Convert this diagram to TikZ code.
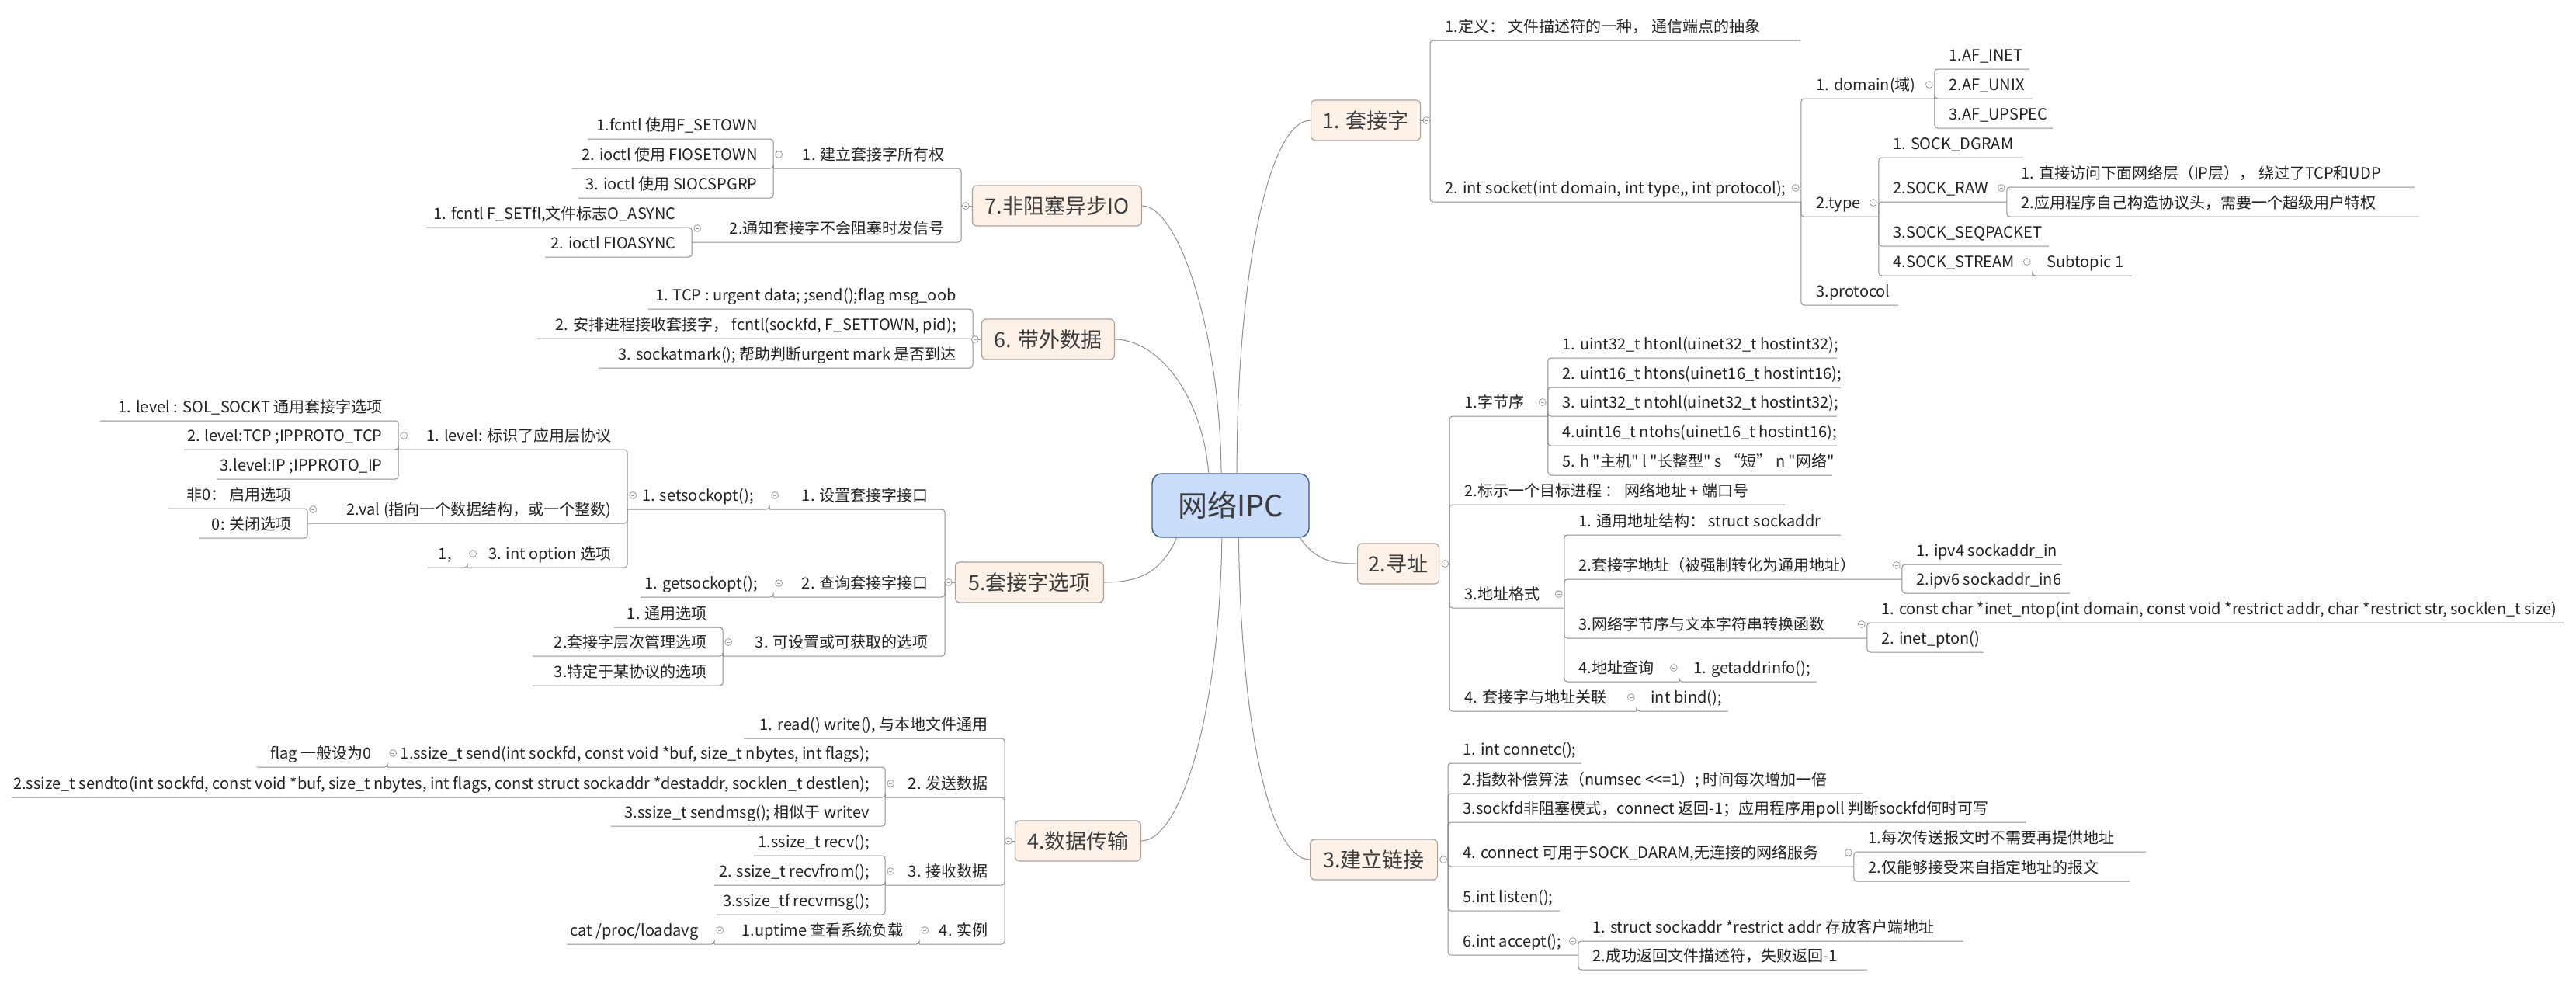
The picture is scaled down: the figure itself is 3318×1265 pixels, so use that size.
\documentclass[tikz,border=0pt]{standalone}
\usepackage{fontspec}
\setmainfont{Noto Sans CJK SC}
\newfontfamily\mapfont{Noto Sans CJK SC}
\definecolor{rootfill}{HTML}{C9DCFA}
\definecolor{rootline}{HTML}{3B5B8F}
\definecolor{boxfill}{HTML}{FEF2E8}
\definecolor{boxline}{HTML}{A9A29B}
\definecolor{linkgray}{HTML}{8E8E8E}
\definecolor{foldgray}{HTML}{9A9A9A}
\definecolor{boxtext}{HTML}{3C3C3C}
\definecolor{leaftext}{HTML}{222222}
\tikzset{
  root/.style={draw=rootline, fill=rootfill, rounded corners=6pt, line width=0.7pt,
    minimum width=101pt, minimum height=41pt, font=\mapfont\fontsize{19}{22}\selectfont, text=boxtext},
  topic/.style={draw=boxline, fill=boxfill, rounded corners=3pt, line width=0.6pt,
    minimum width=#1, minimum height=26pt, inner sep=2pt,
    font=\mapfont\fontsize{13.5}{16}\selectfont, text=boxtext},
  rn/.style={anchor=south west, inner xsep=9.5pt, inner ysep=2pt, text height=8pt, text depth=3.2pt,
    font=\mapfont\fontsize{10}{12}\selectfont, text=leaftext,
    execute at begin node={\hbox to \dimexpr 0.5pt*#1-19pt\relax\bgroup},
    execute at end node={\hss\egroup}},
  ln/.style={anchor=south east, inner xsep=10.5pt, inner ysep=2pt, text height=8pt, text depth=3.2pt,
    font=\mapfont\fontsize{10}{12}\selectfont, text=leaftext,
    execute at begin node={\hbox to \dimexpr 0.5pt*#1-21pt\relax\bgroup\hss},
    execute at end node={\egroup}},
  link/.style={color=linkgray, line width=0.5pt, rounded corners=2pt},
  fold/.style={circle, draw=foldgray, fill=white, line width=0.4pt, minimum size=4.4pt, inner sep=0pt,
    path picture={\draw[foldgray, line width=0.4pt]
      ([xshift=-1.1pt]path picture bounding box.center) -- ([xshift=1.1pt]path picture bounding box.center);}}
}
\begin{document}
\begin{tikzpicture}[x=0.5pt,y=-0.5pt]
\useasboundingbox (0,0) rectangle (3318,1265);

\node[root] (root) at (1585,651) {网络IPC};

\node[topic=70.5pt, anchor=west] (b1) at (1688,155) {1. 套接字};
\node[topic=52.5pt, anchor=west] (b2) at (1748,726) {2.寻址};
\node[topic=82pt, anchor=west] (b3) at (1687,1107) {3.建立链接};
\node[topic=81pt, anchor=east] (b4) at (1470,1083) {4.数据传输};
\node[topic=95.5pt, anchor=east] (b5) at (1422,750) {5.套接字选项};
\node[topic=85.5pt, anchor=east] (b6) at (1436,437) {6. 带外数据};
\node[topic=109pt, anchor=east] (b7) at (1471,265) {7.非阻塞异步IO};

% 1. 套接字
\node[rn=476] (a1) at (1842,52) {1.定义：  文件描述符的一种，  通信端点的抽象};
\node[rn=477] (a2) at (1842,260) {2. int socket(int domain,  int type,{},  int protocol);};
\node[rn=171] (a21) at (2320,127) {1. domain(域)};
\node[rn=122] (a211) at (2491,89) {1.AF\_INET};
\node[rn=126] (a212) at (2491,127) {2.AF\_UNIX};
\node[rn=152] (a213) at (2491,165) {3.AF\_UPSPEC};
\node[rn=99] (a22) at (2320,279) {2.type};
\node[rn=186] (a221) at (2419,203) {1. SOCK\_DGRAM};
\node[rn=165] (a222) at (2419,260) {2.SOCK\_RAW};
\node[rn=525] (a2221) at (2584,241) {1. 直接访问下面网络层（IP层）， 绕过了TCP和UDP};
\node[rn=531] (a2222) at (2584,279) {2.应用程序自己构造协议头，需要一个超级用户特权};
\node[rn=219] (a223) at (2419,317) {3.SOCK\_SEQPACKET};
\node[rn=198] (a224) at (2419,355) {4.SOCK\_STREAM};
\node[rn=128] (a2241) at (2617,355) {Subtopic 1};
\node[rn=124] (a23) at (2320,393) {3.protocol};

% 2.寻址
\node[rn=126] (c1) at (1867,536) {1.字节序};
\node[rn=372] (c11) at (1993,461) {1. uint32\_t htonl(uinet32\_t hostint32);};
\node[rn=377] (c12) at (1993,499) {2. uint16\_t htons(uinet16\_t hostint16);};
\node[rn=372] (c13) at (1993,536) {3. uint32\_t ntohl(uinet32\_t hostint32);};
\node[rn=372] (c14) at (1993,574) {4.uint16\_t ntohs(uinet16\_t hostint16);};
\node[rn=366] (c15) at (1993,612) {5. h "主机" l "长整型" s “短” n "网络"};
\node[rn=431] (c2) at (1867,650) {2.标示一个目标进程 ： 网络地址 + 端口号};
\node[rn=147] (c3) at (1867,783) {3.地址格式};
\node[rn=356] (c31) at (2014,689) {1. 通用地址结构：  struct sockaddr};
\node[rn=435] (c32) at (2014,746) {2.套接字地址（被强制转化为通用地址）};
\node[rn=206] (c321) at (2449,727) {1. ipv4 sockaddr\_in};
\node[rn=216] (c322) at (2449,764) {2.ipv6  sockaddr\_in6};
\node[rn=390] (c33) at (2014,822) {3.网络字节序与文本字符串转换函数};
\node[rn=898] (c331) at (2404,802) {1. const char *inet\_ntop(int domain, const void *restrict addr, char *restrict str, socklen\_t size)};
\node[rn=150] (c332) at (2404,840) {2. inet\_pton()};
\node[rn=148] (c34) at (2014,878) {4.地址查询};
\node[rn=177] (c341) at (2162,878) {1. getaddrinfo();};
\node[rn=240] (c4) at (1867,916) {4. 套接字与地址关联};
\node[rn=118] (c41) at (2107,916) {int bind();};

% 3.建立链接
\node[rn=171] (d1) at (1865,983) {1. int connetc();};
\node[rn=534] (d2) at (1865,1022) {2.指数补偿算法（numsec <{}<=1）; 时间每次增加一倍};
\node[rn=744] (d3) at (1865,1059) {3.sockfd非阻塞模式，connect 返回-1；应用程序用poll 判断sockfd何时可写};
\node[rn=522] (d4) at (1865,1116) {4. connect 可用于SOCK\_DARAM,无连接的网络服务};
\node[rn=376] (d41) at (2387,1097) {1.每次传送报文时不需要再提供地址};
\node[rn=355] (d42) at (2387,1135) {2.仅能够接受来自指定地址的报文};
\node[rn=143] (d5) at (1865,1173) {5.int listen();};
\node[rn=167] (d6) at (1865,1230) {6.int accept();};
\node[rn=496] (d61) at (2032,1212) {1. struct  sockaddr *restrict addr  存放客户端地址};
\node[rn=372] (d62) at (2032,1249) {2.成功返回文件描述符，失败返回-1};

% 7.非阻塞异步IO
\node[ln=241] (h1) at (1238,217) {1. 建立套接字所有权};
\node[ln=239] (h11) at (997,179) {1.fcntl 使用F\_SETOWN};
\node[ln=259] (h12) at (997,217) {2. ioctl 使用 FIOSETOWN};
\node[ln=251] (h13) at (997,255) {3. ioctl 使用 SIOCSPGRP};
\node[ln=346] (h2) at (1238,312) {2.通知套接字不会阻塞时发信号};
\node[ln=342] (h21) at (892,293) {1. fcntl F\_SETfl,文件标志O\_ASYNC};
\node[ln=189] (h22) at (892,331) {2. ioctl FIOASYNC};

% 6. 带外数据
\node[ln=417] (g1) at (1253,398) {1. TCP : urgent data;  ;send();flag msg\_oob};
\node[ln=560] (g2) at (1253,436) {2. 安排进程接收套接字，  fcntl(sockfd, F\_SETTOWN, pid);};
\node[ln=481] (g3) at (1253,474) {3. sockatmark(); 帮助判断urgent mark 是否到达};

% 5.套接字选项
\node[ln=225] (f1) at (1217,656) {1.  设置套接字接口};
\node[ln=183] (f11) at (992,656) {1. setsockopt();};
\node[ln=295] (f111) at (809,579) {1. level: 标识了应用层协议};
\node[ln=384] (f1111) at (514,542) {1. level : SOL\_SOCKT  通用套接字选项};
\node[ln=276] (f1112) at (514,579) {2. level:TCP ;IPPROTO\_TCP};
\node[ln=234] (f1113) at (514,617) {3.level:IP ;IPPROTO\_IP};
\node[ln=412] (f112) at (809,674) {2.val (指向一个数据结构，或一个整数)};
\node[ln=179] (f1121) at (397,655) {非0： 启用选项};
\node[ln=140] (f1122) at (397,693) {0: 关闭选项};
\node[ln=206] (f113) at (809,731) {3. int option 选项};
\node[ln=51] (f1131) at (603,731) {1,};
\node[ln=220] (f2) at (1217,769) {2. 查询套接字接口};
\node[ln=171] (f21) at (997,769) {1. getsockopt();};
\node[ln=285] (f3) at (1217,845) {3. 可设置或可获取的选项};
\node[ln=140] (f31) at (932,808) {1. 通用选项};
\node[ln=245] (f32) at (932,845) {2.套接字层次管理选项};
\node[ln=245] (f33) at (932,883) {3.特定于某协议的选项};

% 4.数据传输
\node[ln=335] (e1) at (1294,951) {1. read() write(), 与本地文件通用};
\node[ln=153] (e2) at (1294,1027) {2. 发送数据};
\node[ln=641] (e21) at (1141,988) {1.ssize\_t send(int sockfd, const void *buf, size\_t nbytes, int flags);};
\node[ln=168] (e211) at (500,988) {flag 一般设为0};
\node[ln=1125] (e22) at (1141,1027) {2.ssize\_t sendto(int sockfd, const void *buf, size\_t nbytes, int flags, const struct sockaddr *destaddr, socklen\_t destlen);};
\node[ln=353] (e23) at (1141,1064) {3.ssize\_t sendmsg();  相似于 writev};
\node[ln=153] (e3) at (1294,1140) {3. 接收数据};
\node[ln=169] (e31) at (1141,1102) {1.ssize\_t recv();};
\node[ln=220] (e32) at (1141,1140) {2. ssize\_t recvfrom();};
\node[ln=217] (e33) at (1141,1178) {3.ssize\_tf recvmsg();};
\node[ln=109] (e4) at (1294,1216) {4. 实例};
\node[ln=264] (e41) at (1185,1216) {1.uptime 查看系统负载};
\node[ln=190] (e411) at (921,1216) {cat /proc/loadavg};

\begin{scope}[link]
  \draw (root.79) .. controls +(0,-250) and +(-55,0) .. (b1.west);
  \draw (root.335) .. controls +(20,28) and +(-35,0) .. (b2.west);
  \draw (root.284) .. controls +(3,250) and +(-50,0) .. (b3.west);
  \draw (root.255) .. controls +(-3,230) and +(50,0) .. (b4.east);
  \draw (root.211) .. controls +(-20,45) and +(45,0) .. (b5.east);
  \draw (root.124) .. controls +(-10,-110) and +(50,0) .. (b6.east);
  \draw (root.106) .. controls +(-2,-190) and +(45,0) .. (b7.east);

  \foreach \b/\c in {b1/a1,b2/c1,b3/d1}
    \draw (\b.east) -- (\b.east -| \c.south west);
  \foreach \b/\c in {b4/e1,b5/f1,b6/g1,b7/h1}
    \draw (\b.west) -- (\b.west -| \c.south east);

  \foreach \b/\c in {b1/a1,b1/a2,b2/c1,b2/c2,b2/c3,b2/c4,
      b3/d1,b3/d2,b3/d3,b3/d4,b3/d5,b3/d6}
    \draw (\b.east -| \c.south west) |- (\c.south east);
  \foreach \b/\c in {b7/h1,b7/h2,b6/g1,b6/g2,b6/g3,b5/f1,b5/f2,b5/f3,
      b4/e1,b4/e2,b4/e3,b4/e4}
    \draw (\b.west -| \c.south east) |- (\c.south west);

  \foreach \p/\c in {a2/a21,a2/a22,a2/a23,a21/a211,a21/a212,a21/a213,
      a22/a221,a22/a222,a22/a223,a22/a224,a222/a2221,a222/a2222,a224/a2241,
      c1/c11,c1/c12,c1/c13,c1/c14,c1/c15,c3/c31,c3/c32,c3/c33,c3/c34,
      c32/c321,c32/c322,c33/c331,c33/c332,c34/c341,c4/c41,
      d4/d41,d4/d42,d6/d61,d6/d62}
    \draw (\p.south east) |- (\c.south east);
  \foreach \p/\c in {h1/h11,h1/h12,h1/h13,h2/h21,h2/h22,
      f1/f11,f11/f111,f11/f112,f11/f113,f111/f1111,f111/f1112,f111/f1113,
      f112/f1121,f112/f1122,f113/f1131,f2/f21,f3/f31,f3/f32,f3/f33,
      e2/e21,e2/e22,e2/e23,e21/e211,e3/e31,e3/e32,e3/e33,e4/e41,e41/e411}
    \draw (\p.south west) |- (\c.south west);
\end{scope}

\foreach \n in {b1,b2,b3}
  \node[fold] at ([shift={(7,0)}]\n.east) {};
\foreach \n in {b4,b5,b6,b7}
  \node[fold] at ([shift={(-8,0)}]\n.west) {};
\foreach \n in {a2,a21,a22,a222,a224,c1,c3,c32,c33,c34,c4,d4,d6}
  \node[fold] at ([shift={(-7,-18)}]\n.south east) {};
\foreach \n in {h1,h2,f1,f11,f111,f112,f113,f2,f3,e2,e21,e3,e4,e41}
  \node[fold] at ([shift={(7,-18)}]\n.south west) {};
\end{tikzpicture}
\end{document}
